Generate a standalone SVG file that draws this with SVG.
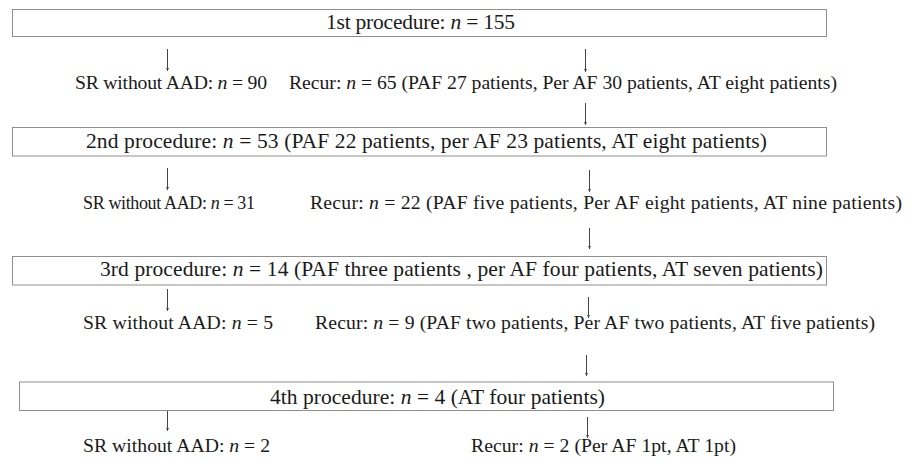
<svg xmlns="http://www.w3.org/2000/svg" width="912" height="462" viewBox="0 0 912 462">
<defs>
<marker id="ah" viewBox="0 0 4 4" refX="4" refY="2" markerWidth="3" markerHeight="3" markerUnits="userSpaceOnUse" orient="auto">
<path d="M0,0 L4,2 L0,4 Z" fill="#444"/>
</marker>
</defs>
<style>
text{font-family:"Liberation Serif","Times New Roman",serif;font-size:21.5px;fill:#1a1a1a}
.r{font-size:19.7px}
.s{font-size:18px}
.i{font-style:italic}
.box{fill:#fff;stroke:#8f8f8f;stroke-width:1}
.c line{stroke:#444;stroke-width:1;marker-end:url(#ah)}
</style>
<rect width="912" height="462" fill="#fff"/>
<g id="p1"><rect class="box" x="12.5" y="9.5" width="814" height="27"/>
<text x="326" y="29" textLength="189" lengthAdjust="spacing">1st procedure: <tspan class="i">n</tspan> = 155</text></g>
<g id="sr1"><text class="r" x="75" y="89" textLength="192" lengthAdjust="spacing">SR without AAD: <tspan class="i">n</tspan> = 90</text></g>
<g id="r1"><text class="r" x="289" y="89" textLength="548" lengthAdjust="spacing">Recur: <tspan class="i">n</tspan> = 65 (PAF 27 patients, Per AF 30 patients, AT eight patients)</text></g>
<g id="p2"><rect class="box" x="12.5" y="127.5" width="814" height="28.5"/>
<text x="86" y="148" textLength="681" lengthAdjust="spacing">2nd procedure: <tspan class="i">n</tspan> = 53 (PAF 22 patients, per AF 23 patients, AT eight patients)</text></g>
<g id="sr2"><text class="s" x="83" y="209" textLength="172" lengthAdjust="spacing">SR without AAD: <tspan class="i">n</tspan> = 31</text></g>
<g id="r2"><text class="r" x="310" y="209" textLength="592" lengthAdjust="spacing">Recur: <tspan class="i">n</tspan> = 22 (PAF five patients, Per AF eight patients, AT nine patients)</text></g>
<g id="p3"><rect class="box" x="12.5" y="256.5" width="814" height="28.5"/>
<text x="100" y="276" textLength="723" lengthAdjust="spacing">3rd procedure: <tspan class="i">n</tspan> = 14 (PAF three patients , per AF four patients, AT seven patients)</text></g>
<g id="sr3"><text class="r" x="83" y="329" textLength="190" lengthAdjust="spacing">SR without AAD: <tspan class="i">n</tspan> = 5</text></g>
<g id="r3"><text class="r" x="315" y="329" textLength="560" lengthAdjust="spacing">Recur: <tspan class="i">n</tspan> = 9 (PAF two patients, Per AF two patients, AT five patients)</text></g>
<g id="p4"><rect class="box" x="19.5" y="382" width="814" height="28.5"/>
<text x="270" y="404" textLength="335" lengthAdjust="spacing">4th procedure: <tspan class="i">n</tspan> = 4 (AT four patients)</text></g>
<g id="sr4"><text class="r" x="83" y="452" textLength="187" lengthAdjust="spacing">SR without AAD: <tspan class="i">n</tspan> = 2</text></g>
<g id="r4"><text class="r" x="471" y="452" textLength="265" lengthAdjust="spacing">Recur: <tspan class="i">n</tspan> = 2 (Per AF 1pt, AT 1pt)</text></g>
<g id="connectors" class="c">
<line x1="167.5" y1="49" x2="167.5" y2="71"/>
<line x1="585.5" y1="49" x2="585.5" y2="72"/>
<line x1="585.5" y1="103" x2="585.5" y2="125"/>
<line x1="167.5" y1="168" x2="167.5" y2="190"/>
<line x1="589.5" y1="170" x2="589.5" y2="192"/>
<line x1="589.5" y1="228" x2="589.5" y2="249"/>
<line x1="167.5" y1="289" x2="167.5" y2="311"/>
<line x1="588.5" y1="297" x2="588.5" y2="318"/>
<line x1="586.5" y1="355" x2="586.5" y2="376"/>
<line x1="167.5" y1="411" x2="167.5" y2="431"/>
<line x1="587.5" y1="417" x2="587.5" y2="438"/>
</g>
</svg>
